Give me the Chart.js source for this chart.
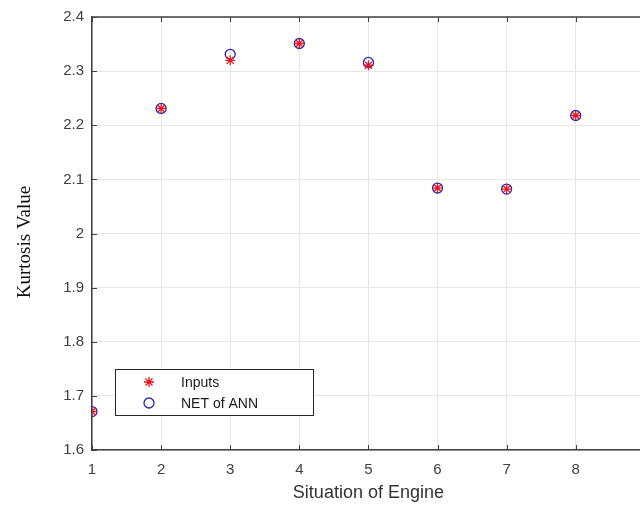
<!DOCTYPE html>
<html>
<head>
<meta charset="utf-8">
<script src="https://cdn.jsdelivr.net/npm/chart.js@4.4.1/dist/chart.umd.min.js"></script>
<style>
  html, body { margin: 0; padding: 0; background: #fff; overflow: hidden; }
  #wrap { position: relative; width: 660px; height: 508px; }
</style>
</head>
<body>
<div id="wrap"><canvas id="kurt" width="660" height="508"></canvas></div>
<script>
// situations of the engine (x) and kurtosis values
const situations = [1, 2, 3, 4, 5, 6, 7, 8];
const inputsValues = [1.671, 2.231, 2.320, 2.351, 2.311, 2.084, 2.082, 2.218];
const annValues = [1.671, 2.231, 2.331, 2.351, 2.316, 2.084, 2.082, 2.218];
const legendLabels = ["Inputs", "NET of ANN"];
const yTitle = "Kurtosis Value";

const toPoints = (vals) => vals.map((v, i) => ({ x: situations[i], y: v }));

// legend box drawn inside the plot, bottom-left like the MATLAB one
const boxLegend = {
  id: "boxLegend",
  afterDraw(chart) {
    const ctx = chart.ctx;
    const x0 = 115, y0 = 369, w = 198, h = 46;
    ctx.save();
    ctx.fillStyle = "#fff";
    ctx.fillRect(x0, y0, w, h);
    ctx.strokeStyle = "#262626";
    ctx.lineWidth = 1;
    ctx.strokeRect(x0 + 0.5, y0 + 0.5, w, h);
    ctx.font = "14px Arial, 'Liberation Sans', sans-serif";
    ctx.textBaseline = "middle";
    chart.data.datasets.forEach((ds, i) => {
      const cy = y0 + 13 + i * 21;
      ctx.strokeStyle = ds.borderColor;
      ctx.fillStyle = "rgba(0,0,0,0)";
      ctx.lineWidth = ds.borderWidth;
      Chart.helpers.drawPoint(ctx, {
        pointStyle: ds.pointStyle, radius: ds.pointRadius, borderWidth: ds.borderWidth, rotation: 0
      }, 149, cy);
      ctx.fillStyle = "#1a1a1a";
      ctx.fillText(ds.label, 181, cy + 1);
    });
    ctx.restore();
  }
};

// top frame line, inward tick marks and the serif y title
const frame = {
  id: "frame",
  afterDraw(c) {
    const a = c.chartArea;
    const g = c.ctx;
    g.save();
    g.strokeStyle = "#404040";
    g.lineWidth = 1.5;
    g.beginPath();
    g.moveTo(a.left, a.top);
    g.lineTo(a.right, a.top);
    g.stroke();
    g.lineWidth = 1;
    g.beginPath();
    c.scales.x.ticks.forEach((t) => {
      const px = Math.round(c.scales.x.getPixelForValue(t.value)) + 0.5;
      g.moveTo(px, a.bottom); g.lineTo(px, a.bottom - 5);
      g.moveTo(px, a.top); g.lineTo(px, a.top + 5);
    });
    c.scales.y.ticks.forEach((t) => {
      const py = Math.round(c.scales.y.getPixelForValue(t.value)) + 0.5;
      g.moveTo(a.left, py); g.lineTo(a.left + 5, py);
    });
    g.stroke();
    g.translate(25, 242);
    g.rotate(-Math.PI / 2);
    g.font = "19px 'Liberation Serif', 'Times New Roman', serif";
    g.fillStyle = "#111";
    g.textAlign = "center";
    g.textBaseline = "middle";
    g.fillText(yTitle, 0, 0);
    g.restore();
  },
};

const ctx = document.getElementById("kurt").getContext("2d");
const chart = new Chart(ctx, {
  type: "scatter",
  data: {
    datasets: [
      {
        label: legendLabels[0],
        data: toPoints(inputsValues),
        pointStyle: "star",
        pointRadius: 5,
        borderColor: "#e8141c",
        backgroundColor: "#e8141c",
        borderWidth: 1.3,
      },
      {
        label: legendLabels[1],
        data: toPoints(annValues),
        pointStyle: "circle",
        pointRadius: 5,
        borderColor: "#2424b8",
        backgroundColor: "rgba(0,0,0,0)",
        borderWidth: 1.3,
      },
    ],
  },
  options: {
    responsive: false,
    animation: false,
    devicePixelRatio: 1,
    layout: { padding: { top: 11, right: 15, left: 0, bottom: 0 } },
    plugins: { legend: { display: false }, tooltip: { enabled: false } },
    scales: {
      x: {
        type: "linear",
        min: 1,
        max: 9,
        ticks: { stepSize: 1, autoSkip: false, color: "#404040", font: { size: 15, family: "Arial" }, padding: 11 },
        grid: { color: "#e6e6e6", drawTicks: false },
        border: { color: "#404040", width: 1.5 },
        title: {
          display: true,
          text: "Situation of Engine",
          color: "#333",
          font: { size: 18, family: "Arial" },
          padding: { top: 2 },
        },
        afterFit: (s) => { s.height = 58; },
      },
      y: {
        min: 1.6,
        max: 2.4,
        ticks: {
          stepSize: 0.1,
          autoSkip: false,
          color: "#404040",
          font: { size: 15, family: "Arial" },
          padding: 8,
          callback: (v) => String(+v.toFixed(1)),
        },
        grid: { color: "#e6e6e6", drawTicks: false },
        border: { color: "#404040", width: 1.5 },
        afterFit: (s) => { s.width = 92; },
      },
    },
  },
  plugins: [boxLegend, frame],
});
</script>
</body>
</html>
